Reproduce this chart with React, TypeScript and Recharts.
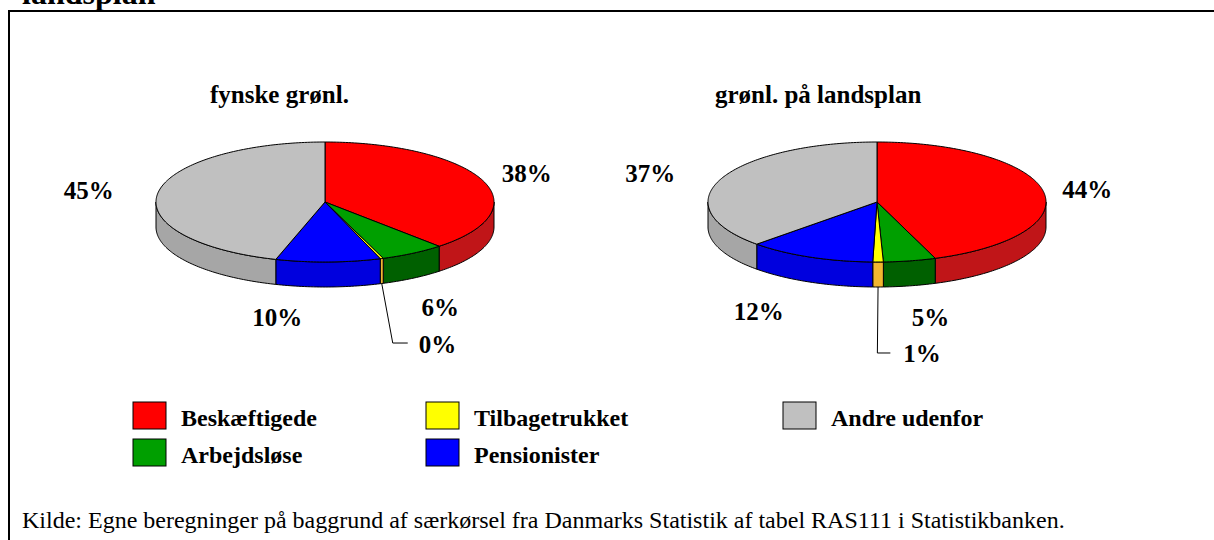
import React from 'react';
import { PieChart, Pie, Cell } from 'recharts';

// ---- data ----
const CATEGORIES = ['Beskæftigede', 'Arbejdsløse', 'Tilbagetrukket', 'Pensionister', 'Andre udenfor'];
const FYN_VALUES = [38.2, 6.2, 0.3, 10.0, 45.3];
const LAND_VALUES = [44.4, 5.0, 1.0, 12.2, 37.4];
const PIE_TITLES = ['fynske grønl.', 'grønl. på landsplan'];
const CHART_TITLE = 'landsplan';
const SOURCE = 'Kilde: Egne beregninger på baggrund af særkørsel fra Danmarks Statistik af tabel RAS111 i Statistikbanken.';

// ---- styles ----
const TOP_COLORS = ['#FF0000', '#009F00', '#FFFF00', '#0000FF', '#C0C0C0'];
const WALL_COLORS = ['#C01518', '#006000', '#F2B630', '#0000DE', '#A6A6A6'];
const FONT = "Liberation Serif, Tinos, DejaVu Serif, serif";
const BOLD: React.CSSProperties = { fontFamily: FONT, fontWeight: 700 };
const REG: React.CSSProperties = { fontFamily: FONT, fontWeight: 400 };

// ---- geometry ----
const W = 1214;
const H = 540;
const RX = 169;
const RATIO = 60 / 169;
const DEPTH = 25;
const CY = 202;
const CXS = [325, 877];
const LABEL_K = 1.3;
const FYN_NUDGE: [number, number][] = [[-3, 8], [1, 22], [0, 0], [-52, 21], [-19, 8.5]];
const LAND_NUDGE: [number, number][] = [[-6, 10], [11, 22.5], [0, 0], [-31, 21.5], [-24, 10]];
const FYN_LEADER = { index: 2, elbow: [11, 59.5], run: 15, gap: 11, textDy: 9.7 };
const LAND_LEADER = { index: 2, elbow: [-0.7, 66], run: 13, gap: 13, textDy: 8.7 };

const RAD = Math.PI / 180;
const pt = (cx: number, cy: number, rx: number, ry: number, deg: number) =>
  [cx + rx * Math.cos(deg * RAD), cy - ry * Math.sin(deg * RAD)];

const TopShape = (p: any) => {
  const { cx, cy, outerRadius, startAngle, endAngle, fill } = p;
  const rx = outerRadius;
  const ry = outerRadius * RATIO;
  const n = Math.max(2, Math.ceil(Math.abs(endAngle - startAngle) / 1));
  let d = `M${cx},${cy}`;
  for (let i = 0; i <= n; i++) {
    const a = startAngle + ((endAngle - startAngle) * i) / n;
    const [x, y] = pt(cx, cy, rx, ry, a);
    d += ` L${x.toFixed(2)},${y.toFixed(2)}`;
  }
  d += ' Z';
  return <path d={d} fill={fill} stroke="#000" strokeWidth={1} strokeLinejoin="round" />;
};

const WallShape = (p: any) => {
  const { cx, cy, outerRadius, startAngle, endAngle, fill } = p;
  const rx = outerRadius;
  const ry = outerRadius * RATIO;
  const lo = Math.max(Math.min(startAngle, endAngle), -180);
  const hi = Math.min(Math.max(startAngle, endAngle), 0);
  if (hi <= lo) return <g />;
  const n = Math.max(2, Math.ceil((hi - lo) / 1));
  const topPts: string[] = [];
  const botPts: string[] = [];
  for (let i = 0; i <= n; i++) {
    const a = lo + ((hi - lo) * i) / n;
    const [x, y] = pt(cx, cy, rx, ry, a);
    topPts.push(`${x.toFixed(2)},${y.toFixed(2)}`);
    botPts.push(`${x.toFixed(2)},${(y + DEPTH).toFixed(2)}`);
  }
  const d = `M${topPts.join(' L')} L${botPts.reverse().join(' L')} Z`;
  return <path d={d} fill={fill} stroke="#000" strokeWidth={1} strokeLinejoin="round" />;
};

const makeLabel = (nudges: [number, number][], leader: any) => (props: any) => {
  const { cx, cy, midAngle, outerRadius, percent, index } = props;
  const rx = outerRadius;
  const ry = outerRadius * RATIO;
  const text = `${Math.round(percent * 100)}%`;
  const s = Math.sin(midAngle * RAD);
  const c = Math.cos(midAngle * RAD);
  if (index === leader.index) {
    const x0 = cx + rx * c;
    const y0 = cy - ry * s + (s < 0 ? DEPTH : 0);
    const x1 = x0 + leader.elbow[0];
    const y1 = y0 + leader.elbow[1];
    const x2 = x1 + leader.run;
    return (
      <g key={`lbl-${index}`}>
        <polyline points={`${x0},${y0} ${x1},${y1} ${x2},${y1}`} fill="none" stroke="#000" strokeWidth={1} />
        <text x={x2 + leader.gap} y={y1 + leader.textDy} style={BOLD} fontSize={25} fill="#000" textAnchor="start">
          {text}
        </text>
      </g>
    );
  }
  const bx = cx + rx * LABEL_K * c;
  const by = cy - ry * LABEL_K * s + (s < 0 ? DEPTH : 0);
  const [dx, dy] = nudges[index];
  return (
    <text key={`lbl-${index}`} x={bx + dx} y={by + dy} style={BOLD} fontSize={25} fill="#000" textAnchor="middle">
      {text}
    </text>
  );
};

const fynData = CATEGORIES.map((name, i) => ({ name, value: FYN_VALUES[i] }));
const landData = CATEGORIES.map((name, i) => ({ name, value: LAND_VALUES[i] }));
const PIES = [
  { data: fynData, cx: CXS[0], nudges: FYN_NUDGE, leader: FYN_LEADER },
  { data: landData, cx: CXS[1], nudges: LAND_NUDGE, leader: LAND_LEADER },
];

const LEGEND_COLS = [133, 426, 783];
const LEGEND_ROWS = [402, 439];

export default function App() {
  return (
    <div style={{ position: 'absolute', left: 0, top: 0, width: W, height: H, background: '#fff', overflow: 'hidden', fontFamily: FONT }}>
      <svg width={W} height={H} style={{ position: 'absolute', left: 0, top: 0, fontFamily: FONT }}>
        <line x1={9} y1={11} x2={W} y2={11} stroke="#000" strokeWidth={2} />
        <line x1={9} y1={10} x2={9} y2={H} stroke="#000" strokeWidth={2} />
        <text x={22} y={4} style={BOLD} fontSize={32} fill="#000">{CHART_TITLE}</text>
        <text x={210} y={103} style={BOLD} fontSize={25} fill="#000">{PIE_TITLES[0]}</text>
        <text x={715} y={103} style={BOLD} fontSize={25} fill="#000">{PIE_TITLES[1]}</text>
        {CATEGORIES.map((name, i) => {
          const col = Math.floor(i / 2);
          const row = i % 2;
          const x = LEGEND_COLS[col];
          const y = LEGEND_ROWS[row];
          return (
            <g key={name}>
              <rect x={x} y={y} width={33} height={27} fill={TOP_COLORS[i]} stroke="#000" strokeWidth={1} />
              <text x={x + 48} y={y + 24} style={BOLD} fontSize={24} fill="#000">{name}</text>
            </g>
          );
        })}
        <text x={22} y={528} style={REG} fontSize={24} fill="#000">{SOURCE}</text>
      </svg>
      <div style={{ position: 'absolute', left: 0, top: 0 }}>
        <PieChart width={W} height={H} margin={{ top: 0, right: 0, bottom: 0, left: 0 }} style={{ fontFamily: FONT }}>
          {PIES.map((p, pi) => (
            <Pie
              key={`wall-${pi}`}
              data={p.data}
              dataKey="value"
              nameKey="name"
              cx={p.cx}
              cy={CY}
              innerRadius={0}
              outerRadius={RX}
              startAngle={90}
              endAngle={-270}
              isAnimationActive={false}
              labelLine={false}
              shape={WallShape}
              inactiveShape={WallShape}
              activeShape={WallShape}
            >
              {p.data.map((d, i) => (
                <Cell key={d.name} fill={WALL_COLORS[i]} />
              ))}
            </Pie>
          ))}
          {PIES.map((p, pi) => (
            <Pie
              key={`top-${pi}`}
              data={p.data}
              dataKey="value"
              nameKey="name"
              cx={p.cx}
              cy={CY}
              innerRadius={0}
              outerRadius={RX}
              startAngle={90}
              endAngle={-270}
              isAnimationActive={false}
              labelLine={false}
              label={makeLabel(p.nudges, p.leader)}
              shape={TopShape}
              inactiveShape={TopShape}
              activeShape={TopShape}
            >
              {p.data.map((d, i) => (
                <Cell key={d.name} fill={TOP_COLORS[i]} />
              ))}
            </Pie>
          ))}
        </PieChart>
      </div>
    </div>
  );
}
